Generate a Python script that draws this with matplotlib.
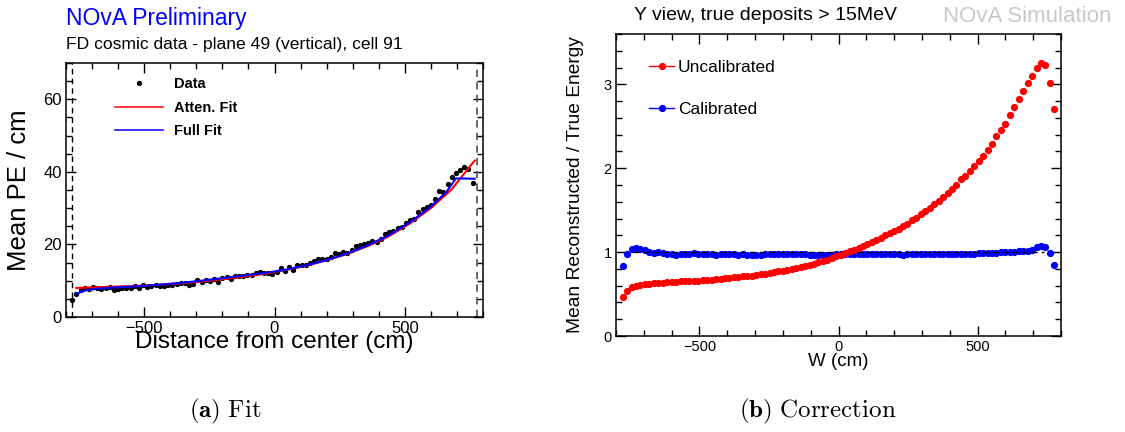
import numpy as np
import matplotlib
matplotlib.use("Agg")
import matplotlib.pyplot as plt
from matplotlib.lines import Line2D
from matplotlib.ticker import MultipleLocator

plt.rcParams["font.family"] = ["Liberation Sans", "DejaVu Sans"]
plt.rcParams["mathtext.fontset"] = "cm"

# ---- (a) attenuation fit, FD cosmic data, plane 49 cell 91 ----
fit_x = np.arange(-776, 761, 16)
fit_pe = [4.6, 6.3, 7.5, 7.9, 7.8, 8.4, 7.9, 7.8, 8.0, 8.3,
          7.4, 7.6, 8.0, 8.1, 8.0, 8.5, 7.9, 8.7, 8.3, 8.6,
          8.7, 8.6, 8.5, 8.7, 8.8, 9.0, 9.5, 9.4, 8.8, 9.2,
          10.1, 9.6, 10.2, 10.0, 10.4, 9.6, 10.8, 11.0, 10.6, 11.2,
          11.3, 11.3, 11.7, 11.5, 12.0, 12.3, 12.2, 12.0, 11.8, 12.4,
          13.4, 12.8, 13.9, 13.0, 14.4, 14.2, 14.2, 15.0, 15.3, 16.0,
          15.9, 16.0, 16.6, 17.6, 17.4, 17.9, 17.6, 18.6, 19.5, 19.8,
          20.2, 20.4, 20.9, 20.6, 21.4, 23.0, 23.3, 23.7, 24.5, 24.8,
          26.0, 26.6, 27.0, 29.0, 29.8, 30.4, 30.8, 32.6, 34.6, 34.4,
          36.6, 38.5, 39.7, 40.4, 41.3, 40.8, 36.9]

atten_x = [-760, -680, -600, -520, -440, -360, -280, -200, -120, -40,
           40, 120, 200, 280, 360, 440, 520, 600, 680, 768]
atten_y = [8.0, 8.2, 8.4, 8.6, 8.9, 9.3, 9.8, 10.4, 11.1, 11.9,
           12.9, 14.1, 15.6, 17.4, 19.6, 22.3, 25.8, 30.0, 35.2, 43.1]

full_x = [-760, -740, -720, -680, -600, -520, -440, -360, -280, -200,
          -120, -40, 40, 120, 200, 280, 360, 440, 520, 600,
          660, 696, 768]
full_y = [6.3, 7.0, 7.4, 7.8, 8.2, 8.5, 8.9, 9.4, 10.0, 10.7,
          11.4, 12.1, 13.0, 14.2, 15.7, 17.5, 19.8, 22.6, 26.1, 30.4,
          34.5, 38.2, 38.1]

fit_range = [-777, 777]

# ---- (b) correction, Y view ----
w_x = np.arange(-776, 777, 16)
uncal = [0.46, 0.54, 0.58, 0.60, 0.61, 0.62, 0.62, 0.63, 0.63, 0.63,
         0.64, 0.64, 0.64, 0.65, 0.65, 0.65, 0.66, 0.66, 0.67, 0.67,
         0.67, 0.68, 0.68, 0.69, 0.69, 0.70, 0.70, 0.71, 0.72, 0.72,
         0.73, 0.74, 0.74, 0.75, 0.76, 0.77, 0.78, 0.79, 0.80, 0.81,
         0.82, 0.83, 0.85, 0.86, 0.88, 0.89, 0.91, 0.93, 0.95, 0.97,
         0.99, 1.01, 1.03, 1.05, 1.07, 1.10, 1.12, 1.14, 1.17, 1.20,
         1.23, 1.25, 1.28, 1.31, 1.34, 1.38, 1.41, 1.45, 1.49, 1.53,
         1.57, 1.61, 1.66, 1.70, 1.75, 1.80, 1.87, 1.91, 1.97, 2.03,
         2.09, 2.15, 2.22, 2.29, 2.38, 2.45, 2.53, 2.63, 2.73, 2.82,
         2.92, 3.01, 3.10, 3.20, 3.25, 3.23, 3.02, 2.71]
cal = [0.84, 0.98, 1.04, 1.05, 1.04, 1.02, 1.00, 0.99, 1.00, 0.99,
       0.98, 0.98, 0.97, 0.98, 0.98, 0.98, 0.99, 0.98, 0.98, 0.98,
       0.98, 0.97, 0.98, 0.98, 0.98, 0.98, 0.97, 0.98, 0.97, 0.97,
       0.97, 0.97, 0.98, 0.98, 0.98, 0.98, 0.98, 0.98, 0.98, 0.98,
       0.98, 0.98, 0.97, 0.97, 0.97, 0.97, 0.97, 0.97, 0.98, 0.98,
       0.98, 0.98, 0.98, 0.98, 0.98, 0.98, 0.98, 0.98, 0.98, 0.98,
       0.98, 0.98, 0.98, 0.97, 0.98, 0.98, 0.98, 0.98, 0.98, 0.98,
       0.98, 0.98, 0.98, 0.98, 0.98, 0.98, 0.98, 0.98, 0.98, 0.98,
       0.99, 0.99, 0.99, 0.99, 0.99, 1.00, 1.00, 1.00, 1.00, 1.01,
       1.01, 1.01, 1.03, 1.06, 1.07, 1.06, 0.99, 0.85]
unity_range = [-740, 740]

W, H = 1125, 432
fig = plt.figure(figsize=(W / 100, H / 100), dpi=100)


def px_axes(x0, x1, y0, y1):
    # axes rectangle given in pixel coordinates (top-left origin)
    return fig.add_axes([x0 / W, 1 - y1 / H, (x1 - x0) / W, (y1 - y0) / H])


def root_style(ax, xmaj, xmin, ymaj, ymin, labelsize):
    ax.xaxis.set_major_locator(MultipleLocator(xmaj))
    ax.xaxis.set_minor_locator(MultipleLocator(xmin))
    ax.yaxis.set_major_locator(MultipleLocator(ymaj))
    ax.yaxis.set_minor_locator(MultipleLocator(ymin))
    ax.tick_params(which="both", direction="in", top=True, right=True,
                   width=1, labelsize=labelsize, pad=3)
    ax.tick_params(which="major", length=7)
    ax.tick_params(which="minor", length=4)
    for s in ax.spines.values():
        s.set_linewidth(1.1)


# ---------- left panel ----------
ax1 = px_axes(66, 483, 63, 317)
ax1.plot(fit_x, fit_pe, "o", color="black", markersize=2.8, zorder=3)
ax1.plot(atten_x, atten_y, color="red", lw=1.5, zorder=4)
ax1.plot(full_x, full_y, color="blue", lw=1.5, zorder=5)
ax1.axvline(fit_range[0], color="black", ls=(0, (4, 3)), lw=1)
ax1.axvline(fit_range[1], color="0.35", ls=(0, (4, 3)), lw=1.3)
ax1.set_xlim(-800, 800)
ax1.set_ylim(0, 70)
root_style(ax1, 500, 100, 20, 5, 12)

ax1.set_xlabel("Distance from center (cm)", fontsize=17.5)
ax1.xaxis.set_label_coords(0.5, -0.097)
ax1.xaxis.label.set_va("center")
ax1.set_ylabel("Mean PE / cm", fontsize=18.5)
ax1.yaxis.set_label_coords(-0.113, 0.5)
ax1.yaxis.label.set_va("center")

h_data = Line2D([], [], ls="none", marker="o", color="black", markersize=2.8)
h_att = Line2D([], [], color="red", lw=1.1)
h_full = Line2D([], [], color="blue", lw=1.1)
ax1.legend([h_data, h_att, h_full], ["Data", "Atten. Fit", "Full Fit"],
           loc="upper left", bbox_to_anchor=(0.1175, 0.943), frameon=False,
           borderpad=0, borderaxespad=0, handlelength=3.3, handletextpad=0.75,
           labelspacing=0.64, numpoints=1,
           prop={"weight": "bold", "size": 10.5})

fig.text(66 / W, 1 - 18 / H, "NOvA Preliminary", color="blue",
         fontsize=16.5, ha="left", va="center")
fig.text(66 / W, 1 - 45 / H, "FD cosmic data - plane 49 (vertical), cell 91",
         fontsize=12.6, ha="left", va="center")

# ---------- right panel ----------
ax2 = px_axes(616, 1061, 34, 336)
ax2.plot(w_x, cal, "o", color="blue", markersize=4.2, zorder=3)
ax2.plot(unity_range, [1, 1], color="black", ls=(0, (4, 3)), lw=1, zorder=4)
ax2.plot(w_x, uncal, "o", color="red", markersize=4.2, zorder=5)
ax2.set_xlim(-800, 800)
ax2.set_ylim(0, 3.6)
root_style(ax2, 500, 100, 1, 0.2, 10.5)

ax2.set_xlabel("W (cm)", fontsize=13.5)
ax2.xaxis.set_label_coords(0.5, -0.086)
ax2.xaxis.label.set_va("center")
ax2.set_ylabel("Mean Reconstructed / True Energy", fontsize=13.8)
ax2.yaxis.set_label_coords(-0.092, 0.5)
ax2.yaxis.label.set_va("center")

h_unc = Line2D([], [], color="red", lw=1, marker="o", markersize=4.2)
h_cal = Line2D([], [], color="blue", lw=1, marker="o", markersize=4.2)
ax2.legend([h_unc, h_cal], ["Uncalibrated", "Calibrated"],
           loc="upper left", bbox_to_anchor=(0.074, 0.913), frameon=False,
           borderpad=0, borderaxespad=0, handlelength=1.47, handletextpad=0.2,
           labelspacing=1.53, numpoints=1, fontsize=12.5)

fig.text(634 / W, 1 - 16 / H, "Y view, true deposits > 15MeV",
         fontsize=14, ha="left", va="center")
fig.text(1111 / W, 1 - 16 / H, "NOvA Simulation", color="#c8c8c8",
         fontsize=16, ha="right", va="center")

# ---------- sub-captions ----------
fig.text(225 / W, 1 - 411 / H, r"$\mathbf{(a)}\ \mathrm{Fit}$",
         fontsize=18, ha="center", va="center")
fig.text(818 / W, 1 - 411 / H, r"$\mathbf{(b)}\ \mathrm{Correction}$",
         fontsize=18, ha="center", va="center")

fig.savefig("out.png", dpi=100)
